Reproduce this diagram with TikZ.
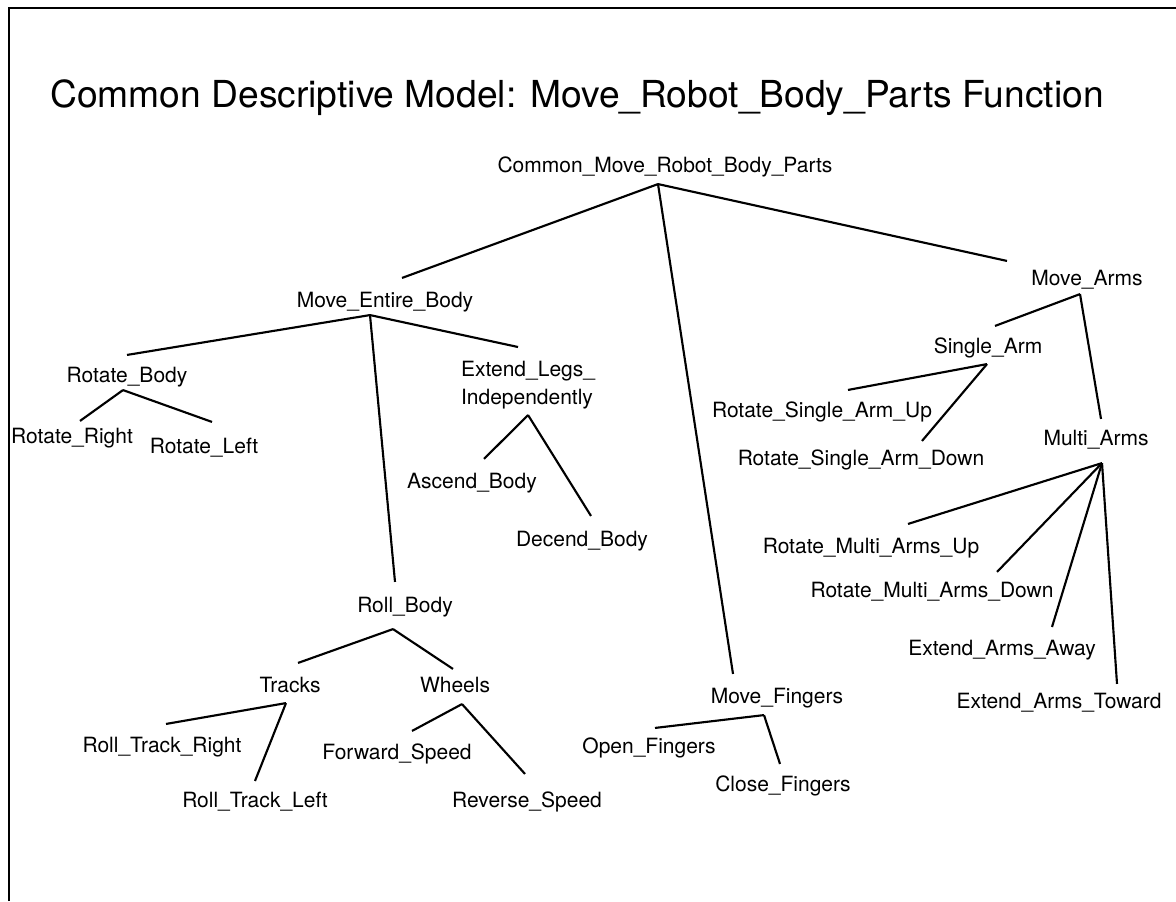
\documentclass[tikz,border=0pt]{standalone}
\usepackage{fontspec}
\setmainfont{TeX Gyre Heros}
\usetikzlibrary{calc}

\tikzset{every picture/.style={line width=1.6pt}}
\tikzset{
  lbl/.style={font=\fontsize{15.75}{21}\selectfont, inner sep=3pt, text height=16.5pt, text depth=5.25pt, anchor=base},
  heading/.style={font=\fontsize{27.9}{32}\selectfont, inner sep=0pt, anchor=base},
}

\begin{document}
\begin{tikzpicture}[x=0.75pt,y=0.75pt,yscale=-1,xscale=1]
\useasboundingbox (0,0) rectangle (1176,901);

% page frame, left and top edges only
\draw [line width=2pt] (9,901) -- (9,8) -- (1176,8);

\node [heading] (title) at (577,107) {Common Descriptive Model: Move\_Robot\_Body\_Parts Function};

% top levels
\node [lbl] (root) at (665,172) {Common\_Move\_Robot\_Body\_Parts};
\node [lbl] (meb) at (385,307) {Move\_Entire\_Body};
\node [lbl] (marms) at (1087,285) {Move\_Arms};
\node [lbl] (mfing) at (777,703) {Move\_Fingers};

% entire body branch
\node [lbl] (rbody) at (127,382) {Rotate\_Body};
\node [lbl] (rright) at (72,443) {Rotate\_Right};
\node [lbl] (rleft) at (204,453) {Rotate\_Left};
\node [lbl, text height=, text depth=, align=left, anchor=north west] (ext) at (456,356) {Extend\_Legs\_\\Independently};
\node [lbl] (ascb) at (472,488) {Ascend\_Body};
\node [lbl] (decb) at (582,546) {Decend\_Body};
\node [lbl] (rollb) at (405,612) {Roll\_Body};
\node [lbl] (tracks) at (290,692) {Tracks};
\node [lbl] (wheels) at (455,692) {Wheels};
\node [lbl] (rtright) at (162,752) {Roll\_Track\_Right};
\node [lbl] (rtleft) at (255,807) {Roll\_Track\_Left};
\node [lbl] (fwd) at (397,759) {Forward\_Speed};
\node [lbl] (rev) at (527,807) {Reverse\_Speed};

% fingers
\node [lbl] (openf) at (649,753) {Open\_Fingers};
\node [lbl] (closef) at (783,791) {Close\_Fingers};

% arms
\node [lbl] (sarm) at (988,353) {Single\_Arm};
\node [lbl] (rsau) at (822,417) {Rotate\_Single\_Arm\_Up};
\node [lbl] (rsad) at (861,465) {Rotate\_Single\_Arm\_Down};
\node [lbl] (marm) at (1096,445) {Multi\_Arms};
\node [lbl] (rmau) at (871,553) {Rotate\_Multi\_Arms\_Up};
\node [lbl] (rmad) at (932,597) {Rotate\_Multi\_Arms\_Down};
\node [lbl] (eaa) at (1002,655) {Extend\_Arms\_Away};
\node [lbl] (eat) at (1059,708) {Extend\_Arms\_Toward};

% branch points under each parent
\coordinate (root-j) at ($(root.south)+(-7,0)$);
\coordinate (meb-j) at ($(meb.south)+(-15,-4)$);
\coordinate (rbody-j) at ($(rbody.south)+(-4,-4)$);
\coordinate (ext-j) at ($(ext.south)+(0,1)$);
\coordinate (rollb-j) at ($(rollb.south)+(-12,5)$);
\coordinate (tracks-j) at ($(tracks.south)+(-4,-1)$);
\coordinate (wheels-j) at ($(wheels.south)+(7,0)$);
\coordinate (mfing-j) at ($(mfing.south)+(-13,0)$);
\coordinate (marms-j) at ($(marms.south)+(-7,-3)$);
\coordinate (sarm-j) at ($(sarm.south)+(-1,-1)$);
\coordinate (marm-j) at ($(marm.south)+(6,6)$);

% tree lines
\draw (root-j) -- ($(meb.north)+(17,-2)$);
\draw (root-j) -- ($(mfing.north)+(-44,-2)$);
\draw (root-j) -- ($(marms.north)+(-80,3)$);

\draw (meb-j) -- ($(rbody.north)+(0,0)$);
\draw (meb-j) -- ($(ext.north)+(-10,-9)$);
\draw (meb-j) -- ($(rollb.north)+(-10,-3)$);

\draw (rbody-j) -- ($(rright.north)+(8,5)$);
\draw (rbody-j) -- ($(rleft.north)+(8,-4)$);

\draw (ext-j) -- ($(ascb.north)+(12,-2)$);
\draw (ext-j) -- ($(decb.north)+(9,-3)$);

\draw (rollb-j) -- ($(tracks.north)+(8,-2)$);
\draw (rollb-j) -- ($(wheels.north)+(-2,4)$);

\draw (tracks-j) -- ($(rtright.north)+(4,-1)$);
\draw (tracks-j) -- ($(rtleft.north)+(0,1)$);

\draw (wheels-j) -- ($(fwd.north)+(15,-1)$);
\draw (wheels-j) -- ($(rev.north)+(-2,-6)$);

\draw (mfing-j) -- ($(openf.north)+(6,2)$);
\draw (mfing-j) -- ($(closef.north)+(-3,0)$);

\draw (marms-j) -- ($(sarm.north)+(7,0)$);
\draw (marms-j) -- ($(marm.north)+(5,1)$);

\draw (sarm-j) -- ($(rsau.north)+(26,0)$);
\draw (sarm-j) -- ($(rsad.north)+(61,3)$);

\draw (marm-j) -- ($(rmau.north)+(37,-2)$);
\draw (marm-j) -- ($(rmad.north)+(65,2)$);
\draw (marm-j) -- ($(eaa.north)+(50,-1)$);
\draw (marm-j) -- ($(eat.north)+(58,3)$);

\end{tikzpicture}
\end{document}
